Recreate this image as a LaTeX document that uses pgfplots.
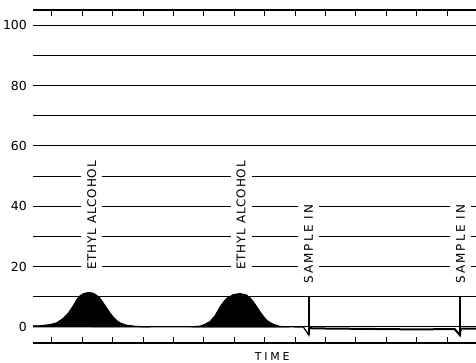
\documentclass[border=0pt]{standalone}
\usepackage{fontspec}
\setmainfont{DejaVu Sans}
\newfontfamily\ethylfont[LetterSpace=7]{DejaVu Sans}
\newfontfamily\samplefont[LetterSpace=18]{DejaVu Sans}
\newfontfamily\timefont[LetterSpace=26]{DejaVu Sans}
\usepackage{pgfplots}
\pgfplotsset{compat=1.18}

\begin{document}
\begin{tikzpicture}
\useasboundingbox (-33bp,-20bp) rectangle (443bp,343bp);
\begin{axis}[
  at={(0,0)}, anchor=south west,
  scale only axis, width=443bp, height=333bp,
  xmin=-0.625, xmax=13.95, ymin=-5.3, ymax=105,
  separate axis lines,
  x axis line style={line width=1.1bp, black},
  y axis line style={draw=none},
  xtick={0,...,13}, xticklabels={},
  xticklabel style={text opacity=0},
  tick align=inside, major tick length=6bp,
  every tick/.style={black, line width=1bp},
  ytick={0,20,...,100}, minor ytick={10,30,...,90},
  ytick pos=left,
  ymajorgrids, yminorgrids,
  major grid style={black, line width=1bp},
  minor grid style={black, line width=1bp},
  /pgf/number format/assume math mode=true,
  yticklabel style={font=\fontsize{12.5}{15}\selectfont, inner sep=0pt, xshift=-6bp},
  xlabel={TIME},
  xlabel style={at={(axis description cs:0.54,0)}, anchor=north, inner sep=0pt,
    yshift=-9bp, font=\timefont\fontsize{11}{13}\selectfont},
]
% first ethyl alcohol peak
\addplot[fill=black, draw=black, line width=1bp] coordinates {
  (-0.625,0.3)(-0.39,0.4)(-0.07,0.8)(0.16,1.4)(0.37,2.9)(0.53,4.5)(0.70,7.0)
  (0.81,9.0)(0.92,10.3)(1.03,11.0)(1.13,11.3)(1.23,11.4)(1.35,11.2)(1.47,10.5)
  (1.58,9.5)(1.69,7.9)(1.80,6.3)(1.91,4.6)(2.02,3.2)(2.13,2.1)(2.27,1.2)
  (2.46,0.6)(2.79,0.2)(3.22,0.1)} \closedcycle;
% second ethyl alcohol peak
\addplot[fill=black, draw=black, line width=1bp] coordinates {
  (4.6,0.1)(4.87,0.3)(5.03,0.9)(5.20,1.8)(5.37,3.8)(5.53,6.7)(5.64,8.2)
  (5.75,9.5)(5.96,10.7)(6.18,11.1)(6.40,10.6)(6.51,9.7)(6.62,8.4)(6.73,6.8)
  (6.84,5.1)(6.95,3.6)(7.06,2.3)(7.17,1.5)(7.28,0.9)(7.50,0.2)(7.8,0.05)} \closedcycle;
% recorder trace
\addplot[black, line width=1.2bp] coordinates {
  (-0.625,0.3)(3.22,0.1)(4.0,0.05)(4.6,0.1)
  (7.8,0.05)(8.27,0)(8.45,-2.7)(8.48,-0.4)};
\addplot[black, line width=2bp] coordinates {
  (8.48,-0.4)(9.0,-0.5)(10.0,-0.6)(11.0,-0.7)(12.0,-0.8)(13.0,-0.7)
  (13.25,-0.7)(13.42,-2.7)(13.45,-0.5)(13.95,-0.5)};
% sample injection markers
\addplot[black, line width=1.5bp] coordinates {(8.45,-2.7)(8.45,10)};
\addplot[black, line width=1.5bp] coordinates {(13.42,-2.7)(13.42,10)};
% annotations
\node[rotate=90, anchor=west, fill=white, inner xsep=1bp, inner ysep=6bp,
  font=\ethylfont\fontsize{12}{15}\selectfont] at (axis cs:1.31,18.6) {ETHYL ALCOHOL};
\node[rotate=90, anchor=west, fill=white, inner xsep=1bp, inner ysep=6bp,
  font=\ethylfont\fontsize{12}{15}\selectfont] at (axis cs:6.22,18.6) {ETHYL ALCOHOL};
\node[rotate=90, anchor=west, fill=white, inner xsep=1bp, inner ysep=6bp,
  font=\samplefont\fontsize{12}{15}\selectfont] at (axis cs:8.44,13.9) {SAMPLE IN};
\node[rotate=90, anchor=west, fill=white, inner xsep=1bp, inner ysep=6bp,
  font=\samplefont\fontsize{12}{15}\selectfont] at (axis cs:13.44,13.9) {SAMPLE IN};
\end{axis}
\end{tikzpicture}
\end{document}
